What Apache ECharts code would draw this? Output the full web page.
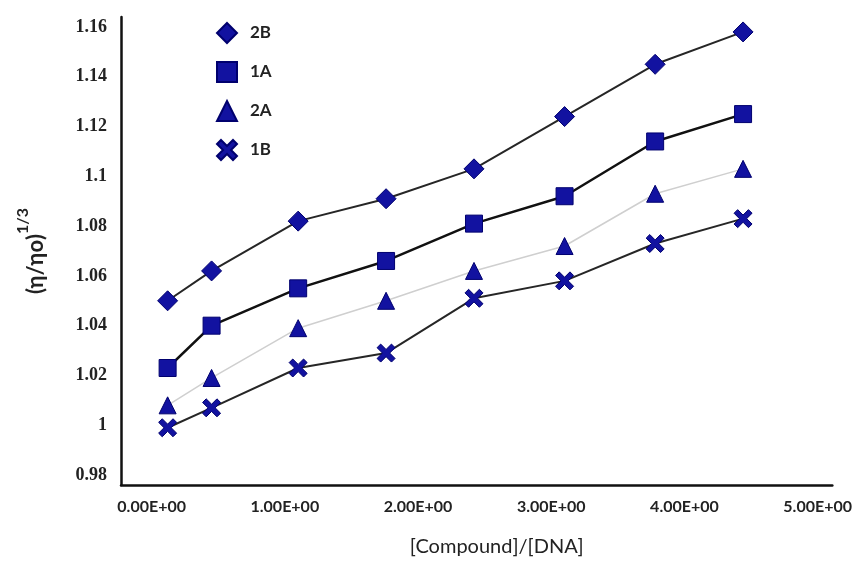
<!DOCTYPE html>
<html>
<head>
<meta charset="utf-8">
<script src="https://cdn.jsdelivr.net/npm/echarts@6/dist/echarts.min.js"></script>
<style>
  html, body { margin: 0; padding: 0; background: #fff; }
  #chart { width: 855px; height: 573px; }
</style>
</head>
<body>
<div id="chart"></div>
<script>
// x = [Compound]/[DNA]
const xValues = [0.12, 0.45, 1.10, 1.76, 2.42, 3.10, 3.78, 4.44];

const s2B = [1.050, 1.062, 1.082, 1.091, 1.103, 1.124, 1.145, 1.158];
const s1A = [1.023, 1.040, 1.055, 1.066, 1.081, 1.092, 1.114, 1.125];
const s2A = [1.008, 1.019, 1.039, 1.050, 1.062, 1.072, 1.093, 1.103];
const s1B = [0.999, 1.007, 1.023, 1.029, 1.051, 1.058, 1.073, 1.083];

const xTicks = [0, 1, 2, 3, 4, 5];
const yTicks = [0.98, 1.00, 1.02, 1.04, 1.06, 1.08, 1.10, 1.12, 1.14, 1.16];

const MARK = "#1212a0";
const MARK_EDGE = "#00006e";
const CROSS = "path://M2,0 L5,3 L8,0 L10,2 L7,5 L10,8 L8,10 L5,7 L2,10 L0,8 L3,5 L0,2 Z";

function pairs(ys) {
  return ys.map((y, i) => [xValues[i], y]);
}

function sciLabel(v) {
  // 1 -> "1.00E+00"
  const [m, e] = Number(v).toExponential(2).split("e");
  const n = Math.abs(parseInt(e, 10));
  return m + "E" + (e[0] === "-" ? "-" : "+") + (n < 10 ? "0" + n : n);
}

function makeSeries(name, ys, symbol, size, lineColor, lineWidth) {
  return {
    name: name,
    type: "line",
    data: pairs(ys),
    symbol: symbol,
    symbolSize: size,
    showAllSymbol: true,
    lineStyle: { color: lineColor, width: lineWidth },
    itemStyle: { color: MARK, borderColor: MARK_EDGE, borderWidth: 1 },
    z: 3
  };
}

const chart = echarts.init(document.getElementById("chart"));
chart.setOption({
  animation: false,
  backgroundColor: "#ffffff",
  grid: { left: 121, right: 22, top: 17, bottom: 88 },
  legend: {
    orient: "vertical",
    left: 211,
    top: 17,
    itemWidth: 20,
    itemHeight: 20,
    itemGap: 17,
    textStyle: { fontFamily: "Lato", fontWeight: "bold", fontSize: 17, color: "#222", padding: [0, 0, 0, 8] },
    data: [
      { name: "2B", icon: "diamond", itemStyle: { color: MARK } },
      { name: "1A", icon: "rect", itemStyle: { color: MARK } },
      { name: "2A", icon: "triangle", itemStyle: { color: MARK } },
      { name: "1B", icon: CROSS, itemStyle: { color: MARK } }
    ]
  },
  xAxis: {
    type: "value",
    min: -0.23,
    max: 5.11,
    name: "[Compound]/[DNA]",
    nameLocation: "middle",
    nameGap: 52,
    nameTextStyle: { fontFamily: "Lato", fontSize: 20, color: "#222", padding: [0, 0, 0, 40] },
    splitLine: { show: false },
    axisTick: { show: false },
    axisLine: { show: true, onZero: false, lineStyle: { color: "#111", width: 2.5 } },
    axisLabel: {
      customValues: xTicks,
      formatter: sciLabel,
      margin: 14,
      fontFamily: "Lato",
      fontWeight: "bold",
      fontSize: 16,
      color: "#222"
    }
  },
  yAxis: {
    type: "value",
    min: 0.976,
    max: 1.164,
    name: "{b|(η/ηo)}{s|1/3}",
    nameLocation: "middle",
    nameGap: 74,
    nameRotate: 90,
    nameTextStyle: {
      rich: {
        b: { fontFamily: "Lato", fontSize: 22, color: "#222", fontWeight: "bold", verticalAlign: "bottom" },
        s: { fontFamily: "Lato", fontSize: 16, color: "#222", fontWeight: "bold", verticalAlign: "top", padding: [0, 0, 16, 0] }
      }
    },
    splitLine: { show: false },
    axisTick: { show: false },
    axisLine: { show: true, onZero: false, lineStyle: { color: "#111", width: 2.5 } },
    axisLabel: {
      customValues: yTicks,
      formatter: (v) => String(+Number(v).toFixed(2)),
      margin: 14,
      fontFamily: "Liberation Serif",
      fontWeight: "bold",
      fontSize: 18,
      color: "#222"
    }
  },
  series: [
    makeSeries("2B", s2B, "diamond", 20, "#262626", 2),
    makeSeries("1A", s1A, "rect", 17, "#111111", 2.5),
    makeSeries("2A", s2A, "triangle", 17, "#cfcfcf", 1.5),
    makeSeries("1B", s1B, CROSS, 18, "#262626", 2)
  ]
});
</script>
</body>
</html>
